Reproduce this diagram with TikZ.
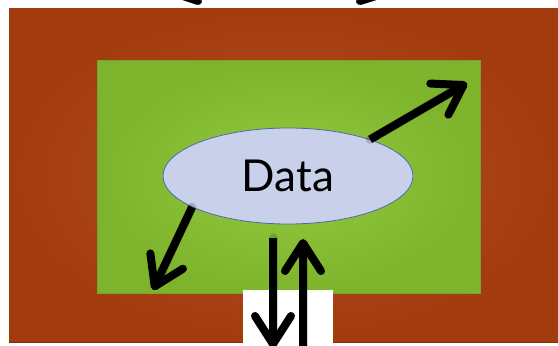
\documentclass[tikz,border=0pt]{standalone}
\usepackage{fontspec}
\setsansfont{Lato}
\usetikzlibrary{arrows.meta, shapes.geometric}

\definecolor{rustedge}{HTML}{A23B0E}
\definecolor{rustmid}{HTML}{B6522A}
\definecolor{limeedge}{HTML}{7EB42C}
\definecolor{limemid}{HTML}{94CA40}
\definecolor{limeline}{HTML}{7E9E3A}
\definecolor{bubblefill}{HTML}{C9D0E9}
\definecolor{bubbleline}{HTML}{4C68A6}

\begin{document}
\begin{tikzpicture}[
    x=1pt, y=-1pt,
    flow/.style={-{Straight Barb[round, length=28pt, width=36pt]}, line width=8pt, draw=black},
    flowshadow/.style={line width=9pt, draw=black, opacity=0.16, line cap=round, shift={(3,4)}, shorten >=14pt},
    bubble/.style={ellipse, draw=bubbleline, thick, fill=bubblefill, minimum width=250pt, minimum height=96pt, font=\sffamily\fontsize{44}{44}\selectfont}
]
    \useasboundingbox (0,0) rectangle (558,346);

    % Backdrop panels
    \fill[rustedge!80!black] (9,10) rectangle (558,343);
    \shade[inner color=rustmid, outer color=rustedge] (9,8) rectangle (558,341);
    \shade[inner color=limemid, outer color=limeedge, draw=limeline] (97,60) rectangle (480,293);
    \fill[white] (243,290) rectangle (333,346);

    % Cut-off arrows at the top
    \begin{scope}
        \clip (0,0) rectangle (558,8);
        \draw[line width=8pt, line cap=round] (168,-9) -- (198,1);
        \draw[line width=8pt, line cap=round] (360,1) -- (392,-9);
    \end{scope}

    % Central node
    \node[bubble] (data) at (288,176) {Data};

    % Free ends
    \coordinate (ne tip) at (467,83);
    \coordinate (sw tip) at (153,290);
    \coordinate (down top) at (273,238);
    \coordinate (down tip) at (273,348);
    \coordinate (up base) at (303,346);
    \coordinate (up tip) at (303,239);

    % Shadows
    \draw[flowshadow] (data.24.8) -- (ne tip);
    \draw[flowshadow] (data.198.4) -- (sw tip);
    \draw[flowshadow] (down top) -- (down tip);
    \draw[flowshadow] (up base) -- (up tip);

    % Arrows
    \draw[flow] (data.24.8) -- (ne tip);
    \draw[flow] (data.198.4) -- (sw tip);
    \draw[flow] (down top) -- (down tip);
    \draw[flow] (up base) -- (up tip);
\end{tikzpicture}
\end{document}
